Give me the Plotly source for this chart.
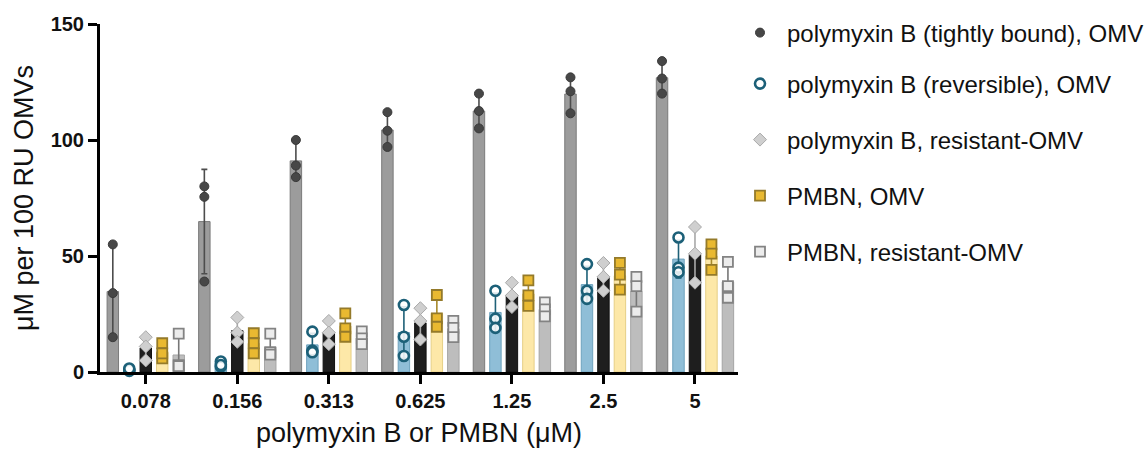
import numpy as np
import plotly.graph_objects as go

# Concentrations (µM) on the x axis
concentrations = ["0.078", "0.156", "0.313", "0.625", "1.25", "2.5", "5"]

# Replicate measurements (µM per 100 RU OMVs), three per concentration
pmb_tight_omv = [[55, 34, 15], [80, 75.5, 39], [100, 89, 84], [112, 104, 97],
                 [120, 112.5, 105], [127, 121, 111.5], [134, 126.5, 120]]
pmb_rev_omv = [[0.5, 1.0, 1.5], [4.5, 2.3, 3.0], [17.4, 9.2, 8.5], [28.9, 15.2, 6.9],
               [35, 23, 19], [46.5, 35, 31.5], [58, 45, 43]]
pmb_resistant = [[15, 11, 5], [23.5, 17, 13], [22, 17, 12], [27.5, 22, 14],
                 [38.5, 33, 28], [47, 41, 35], [62.5, 51, 38.5]]
pmbn_omv = [[12.4, 5.9, 8], [16.7, 12.4, 8], [25.3, 18.8, 15.2], [33.2, 23.1, 19.5],
            [39.5, 33, 28.5], [47, 42, 35.5], [55, 51, 44]]
pmbn_resistant = [[16.5, 3, 2.5], [16.5, 8.5, 7.5], [17.5, 14.5, 12], [22, 19, 15],
                  [30, 27, 24], [41, 37, 26], [47.5, 37, 32]]

series = [
    dict(name="polymyxin B (tightly bound), OMV", data=pmb_tight_omv,
         bar="#9c9c9c", edge="#7a7a7a", err="#4d4d4d",
         marker=dict(symbol="circle", size=9, color="#474747",
                     line=dict(color="#3a3a3a", width=1))),
    dict(name="polymyxin B (reversible), OMV", data=pmb_rev_omv,
         bar="#8fbed7", edge="#6ea2bd", err="#1f6178",
         marker=dict(symbol="circle", size=10, color="rgba(255,255,255,0.85)",
                     line=dict(color="#1c6078", width=2.6))),
    dict(name="polymyxin B, resistant-OMV", data=pmb_resistant,
         bar="#1e1e1e", edge="#111111", err="#a8a8a8",
         marker=dict(symbol="diamond", size=10, color="#cfcfcf",
                     line=dict(color="#a9a9a9", width=1))),
    dict(name="PMBN, OMV", data=pmbn_omv,
         bar="#fde8a8", edge="#e6cf86", err="#a88a2c",
         marker=dict(symbol="square", size=10, color="#e9b931",
                     line=dict(color="#947a2a", width=1.8))),
    dict(name="PMBN, resistant-OMV", data=pmbn_resistant,
         bar="#bdbdbd", edge="#a5a5a5", err="#777777",
         marker=dict(symbol="square", size=10, color="#ececec",
                     line=dict(color="#838383", width=1.8))),
]

# legend entry centres, in container units (fraction of the page height from the bottom)
legend_y = [1 - 33 / 457, 1 - 84 / 457, 1 - 140 / 457, 1 - 196 / 457, 1 - 252 / 457]
legend_x = 733 / 1148

n_series = len(series)
slot = 0.18      # distance between neighbouring bars inside a group
bar_w = 0.125    # bar width in category units
group_idx = np.arange(len(concentrations))

fig = go.Figure()

for j, s in enumerate(series):
    vals = np.array(s["data"], dtype=float)
    means = vals.mean(axis=1)
    sds = vals.std(axis=1, ddof=1)
    xpos = group_idx + (j - (n_series - 1) / 2) * slot
    fig.add_trace(go.Bar(
        x=xpos, y=means, width=bar_w,
        marker=dict(color=s["bar"], line=dict(color=s["edge"], width=1)),
        error_y=dict(type="data", array=sds, visible=True,
                     color=s["err"], thickness=1.6, width=3),
        showlegend=False, hoverinfo="skip",
    ))

legend_layouts = {}
for j, s in enumerate(series):
    vals = np.array(s["data"], dtype=float)
    xpos = group_idx + (j - (n_series - 1) / 2) * slot
    xs = np.repeat(xpos, vals.shape[1])
    key = "legend" if j == 0 else f"legend{j + 1}"
    fig.add_trace(go.Scatter(
        x=xs, y=vals.ravel(), mode="markers", name=s["name"],
        marker=s["marker"], showlegend=True, legend=key, cliponaxis=False,
    ))
    legend_layouts[key] = dict(
        xref="container", yref="container",
        x=legend_x, xanchor="left", y=legend_y[j], yanchor="middle",
        font=dict(size=24, color="#111111", family="Liberation Sans, Arial, sans-serif"),
        itemwidth=44, bgcolor="rgba(0,0,0,0)", borderwidth=0,
    )

font_family = "Liberation Sans, Arial, sans-serif"

fig.update_layout(
    width=1148, height=457,
    margin=dict(l=100, r=410, t=24, b=85, autoexpand=False),
    plot_bgcolor="white", paper_bgcolor="white",
    font=dict(family=font_family, color="#111111"),
    barmode="overlay",
    showlegend=True,
    xaxis=dict(
        range=[-0.5, 6.47],
        tickmode="array", tickvals=group_idx, ticktext=concentrations,
        tickfont=dict(size=20, weight="bold"),
        ticks="outside", ticklen=9, tickwidth=3, tickcolor="black",
        showline=True, linewidth=3, linecolor="black",
        showgrid=False, zeroline=False,
        title=dict(text="polymyxin B or PMBN (μM)", font=dict(size=27), standoff=13),
    ),
    yaxis=dict(
        range=[0, 150],
        tickvals=[0, 50, 100, 150],
        tickfont=dict(size=20, weight="bold"),
        ticks="outside", ticklen=9, tickwidth=3, tickcolor="black",
        showline=True, linewidth=3, linecolor="black",
        showgrid=False, zeroline=False,
        title=dict(text="μM per 100 RU OMVs", font=dict(size=27), standoff=10),
    ),
    **legend_layouts,
)

fig.write_html("out.html")
